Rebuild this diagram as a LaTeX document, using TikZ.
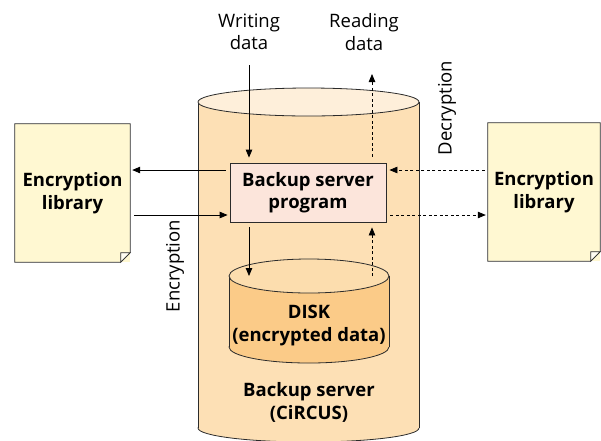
\documentclass[tikz,border=0pt]{standalone}
\usepackage{fontspec}
\setmainfont{Open Sans}
\usetikzlibrary{arrows.meta,calc}
\definecolor{srvside}{HTML}{FDE0B5}
\definecolor{srvtop}{HTML}{FEEFDA}
\definecolor{diskside}{HTML}{FBCB88}
\definecolor{disktopc}{HTML}{FCDDAE}
\definecolor{libfill}{HTML}{FFF8D2}
\definecolor{progfill}{HTML}{FCE5DB}
\definecolor{edgec}{HTML}{2B2B2B}
\tikzset{
  txt/.style={font=\fontsize{18.5}{22.5}\selectfont, align=center, inner sep=0pt},
  btxt/.style={txt, font=\fontsize{18.5}{22.5}\selectfont\bfseries},
  progbox/.style={btxt, draw=edgec, line width=0.8pt, fill=progfill, minimum width=156pt, minimum height=59pt},
  libbox/.style={btxt, fill=libfill, minimum height=138pt},
  arr/.style={line width=0.8pt, -{Triangle[length=8pt,width=6.5pt]}},
  darr/.style={arr, dash pattern=on 3pt off 2.5pt},
  outl/.style={draw=edgec, line width=0.8pt}
}
\begin{document}
\begin{tikzpicture}[x=1pt,y=-1pt]
\useasboundingbox (0,0) rectangle (601,440);
\clip (0,0) rectangle (601,440);
% big server cylinder
\filldraw[fill=srvside, outl] (308.5,428) ellipse [x radius=110.5, y radius=14];
\fill[srvside] (198,102) rectangle (419,428);
\draw[outl] (198,102) -- (198,428) (419,102) -- (419,428);
\filldraw[fill=srvtop, outl] (308.5,102) ellipse [x radius=110.5, y radius=14];
% disk cylinder
\filldraw[fill=diskside, outl] (309,347) ellipse [x radius=80, y radius=16];
\fill[diskside] (229,276) rectangle (389,347);
\draw[outl] (229,276) -- (229,347) (389,276) -- (389,347);
\filldraw[fill=disktopc, outl] (309,276) ellipse [x radius=80, y radius=17];
\coordinate (disktop) at (309,276);
% nodes
\node[progbox] (prog) at (308,192.5) {Backup server\\program};
\node[libbox, minimum width=115pt] (libL) at (72.5,193) {Encryption\\library};
\node[libbox, minimum width=112pt] (libR) at (544,192) {Encryption\\library};
\foreach \n in {libL, libR}{
  \draw[outl] (\n.north west) -- (\n.north east) -- ($(\n.south east)+(0,-9.5)$) -- ($(\n.south east)+(-9.5,0)$) -- (\n.south west) -- cycle;
  \filldraw[fill=white!70!libfill, outl] ($(\n.south east)+(0,-9.5)$) -- ($(\n.south east)+(-9.5,-9.5)$) -- ($(\n.south east)+(-9.5,0)$) -- cycle;
}
\node[txt] (wd) at (249,32) {Writing\\data};
\node[txt] (rd) at (364,32) {Reading\\data};
\node[btxt] (disk) at (309,325.5) {DISK\\(encrypted data)};
\node[btxt] (srv) at (309,402.5) {Backup server\\(CiRCUS)};
\node[txt, rotate=90] (enc) at (175,266) {Encryption};
\node[txt, rotate=90] (dec) at (447,108) {Decryption};
% helper coordinates
\coordinate (rx) at (372,0);
\coordinate (wstart) at (249,65);
\coordinate (rtip) at (372,74);
\coordinate (ya) at (0,170);
\coordinate (yb) at (0,215);
% arrows
\draw[arr, shorten >=5pt] (wstart) -- (wstart |- prog.north);
\draw[arr, shorten <=5pt] (prog.south -| wstart) -- (disktop -| wstart);
\draw[darr, shorten >=5pt] (disktop -| rx) -- (prog.south -| rx);
\draw[darr, shorten <=6pt] (prog.north -| rx) -- (rtip);
\draw[arr, shorten <=4pt, shorten >=2pt] (prog.west |- ya) -- (libL.east |- ya);
\draw[arr, shorten <=4pt, shorten >=2pt] (libL.east |- yb) -- (prog.west |- yb);
\draw[darr, shorten <=3pt, shorten >=3pt] (libR.west |- ya) -- (prog.east |- ya);
\draw[darr, shorten <=4pt, shorten >=2pt] (prog.east |- yb) -- (libR.west |- yb);
\end{tikzpicture}
\end{document}
